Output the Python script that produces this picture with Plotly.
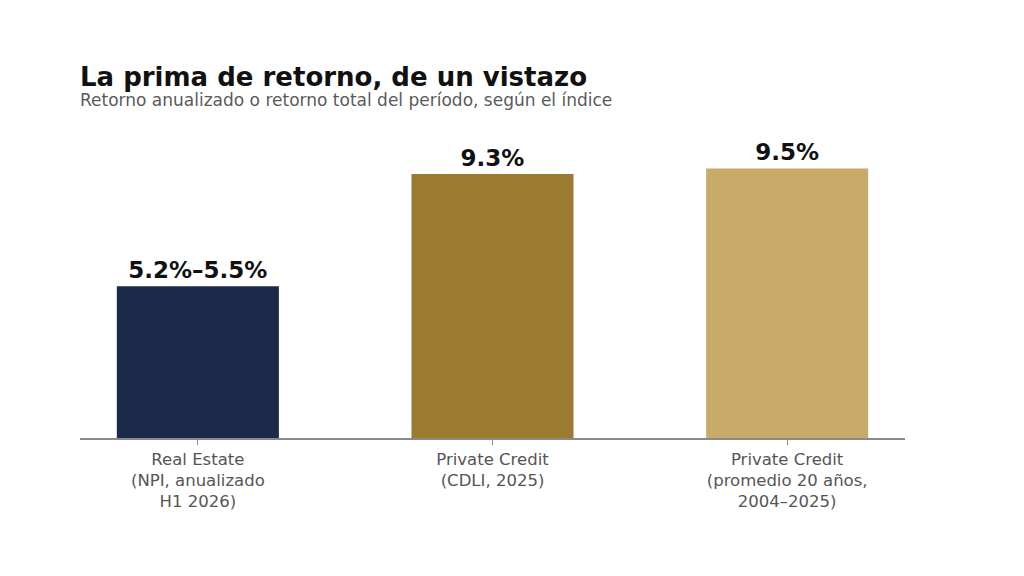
import plotly.graph_objects as go

categories = ["Real Estate<br>(NPI, anualizado<br>H1 2026)",
              "Private Credit<br>(CDLI, 2025)",
              "Private Credit<br>(promedio 20 años,<br>2004–2025)"]
values = [5.35, 9.3, 9.5]
bar_labels = ["5.2%–5.5%", "9.3%", "9.5%"]
colors = ["#1c2a4a", "#9a7b2f", "#c8ab69"]

font = "DejaVu Sans"

trace = go.Bar(x=categories, y=values, text=["<b>%s</b>" % t for t in bar_labels],
               textposition="outside",
               marker=dict(color=colors, line=dict(width=0)), width=0.55,
               textfont=dict(family=font, size=23, color="#111111"),
               cliponaxis=False, hoverinfo="skip")

layout = go.Layout(
    width=1008, height=560, paper_bgcolor="white", plot_bgcolor="white",
    margin=dict(l=72, r=111, t=132, b=130),
    showlegend=False, font=dict(family=font),
    xaxis=dict(range=[-0.4, 2.4], showline=True, linecolor="#8a8a8a", linewidth=1.5,
               ticks="outside", ticklen=5, tickcolor="#8a8a8a",
               tickfont=dict(family=font, size=16.5, color="#555555"), showgrid=False),
    yaxis=dict(range=[0, 10.5], visible=False),
    annotations=[
        dict(text="<b>La prima de retorno, de un vistazo</b>", xref="paper", yref="paper",
             x=-0.003, y=1.211, xanchor="left", yanchor="middle", showarrow=False,
             font=dict(family=font, size=26, color="#111111")),
        dict(text="Retorno anualizado o retorno total del período, según el índice",
             xref="paper", yref="paper", x=-0.003, y=1.134, xanchor="left", yanchor="middle",
             showarrow=False, font=dict(family=font, size=17, color="#5a5a5a")),
    ],
)

fig = go.Figure(data=[trace], layout=layout)
fig.write_html("out.html")
